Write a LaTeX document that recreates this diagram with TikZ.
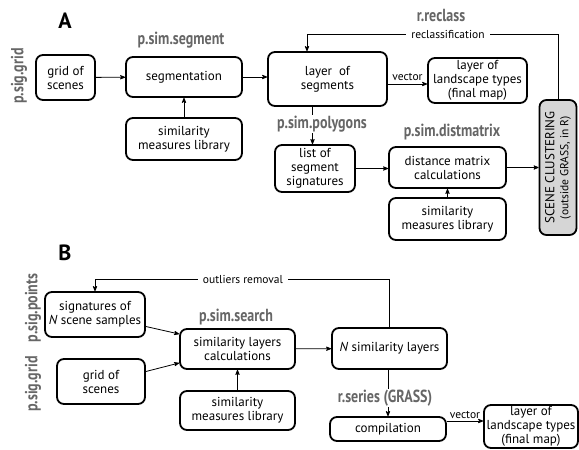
\documentclass[tikz,border=0pt]{standalone}
\usepackage{fontspec}
\setmainfont{PT Sans}
\newfontfamily\cmdfont[FakeStretch=0.8,BoldFont={PT Sans Bold}]{PT Sans}
\usetikzlibrary{shapes,arrows}

\begin{document}
\begin{tikzpicture}[x=1pt,y=-1pt,->,>=stealth',line width=0.8pt,
  main node/.style={draw,line width=1.8pt,rounded corners=7pt,align=center,inner sep=1pt,
    font=\fontsize{13}{14}\selectfont},
  cmd label/.style={text=black!60,font=\cmdfont\bfseries\fontsize{17.5}{17.5}\selectfont,inner sep=1pt},
  part label/.style={font=\bfseries\fontsize{22}{22}\selectfont},
  small label/.style={font=\fontsize{11.5}{13}\selectfont,inner sep=1pt}]

  \useasboundingbox (0,0) rectangle (579,450);

  % part A
  \node[part label] at (65,21) {A};
  \node[cmd label,rotate=90] at (19,76) {p.sig.grid};
  \node[cmd label] at (181,40) {p.sim.segment};
  \node[cmd label] at (441,15) {r.reclass};
  \node[cmd label] at (452,132) {p.sim.distmatrix};

  \node[main node,minimum width=59,minimum height=45] (gridA) at (65.5,77.5) {grid of\\scenes};
  \node[main node,minimum width=116,minimum height=40] (seg) at (184,77) {segmentation};
  \node[main node,minimum width=116,minimum height=42] (libA) at (184,139) {similarity\\measures library};
  \node[main node,minimum width=119,minimum height=54] (layer) at (327.5,79) {layer \ of\\segments};
  \node[main node,minimum width=99,minimum height=45] (landA) at (477.5,80.5) {layer of\\landscape types\\(final map)};
  \node[main node,minimum width=80,minimum height=47] (list) at (315,168.5) {list of\\segment\\signatures};
  \node[main node,minimum width=117,minimum height=41] (dist) at (447.5,167.5) {distance matrix\\calculations};
  \node[main node,minimum width=117,minimum height=42] (libA2) at (447.5,219) {similarity\\measures library};
  \node[main node,fill=black!16,rotate=90,minimum width=135,minimum height=37] (clust) at (558,167.5)
    {{\fontsize{13}{13}\selectfont SCENE CLUSTERING}\\{\fontsize{11.5}{12}\selectfont(outside GRASS, in R)}};

  \coordinate (rc) at (307,34);

  \path
    (gridA) edge (seg)
    (libA) edge (seg)
    (seg.east) edge (seg.east -| layer.west)
    ([yshift=-5pt]layer.east) edge node[small label,above,inner sep=3pt] {vector} ([yshift=-5pt]layer.east -| landA.west)
    ([xshift=-15pt]layer.south) edge ([xshift=-15pt]layer.south |- list.north)
    (list.east) edge (list.east -| dist.west)
    (libA2) edge (dist)
    (dist.east) edge (dist.east -| clust.north);
  \draw (clust.east) |- (rc) -- (rc |- layer.north);
  \node[small label,fill=white,inner xsep=5pt] at (448,34) {reclassification};
  \node[cmd label,fill=white] at (322,124) {p.sim.polygons};

  % part B
  \node[part label] at (65,253) {B};
  \node[cmd label,rotate=90] at (33,308) {p.sig.points};
  \node[cmd label,rotate=90] at (33,384) {p.sig.grid};
  \node[cmd label] at (236,317) {p.sim.search};

  \node[main node,minimum width=100,minimum height=45] (sig) at (95,314.5) {signatures of\\\textit{N} scene samples};
  \node[main node,minimum width=88,minimum height=45] (gridB) at (101,381.5) {grid of\\scenes};
  \node[main node,minimum width=115,minimum height=40] (calc) at (237.5,349) {similarity layers\\calculations};
  \node[main node,minimum width=115,minimum height=39] (libB) at (237.5,410.5) {similarity\\measures library};
  \node[main node,minimum width=115,minimum height=41] (nlay) at (389.5,348.5) {\textit{N} similarity layers};
  \node[main node,minimum width=116,minimum height=24] (comp) at (388,429) {compilation};
  \node[main node,minimum width=94,minimum height=43] (landB) at (531,426.5) {layer of\\landscape types\\(final map)};

  \coordinate (ol) at (95,279);

  \path
    ([yshift=-12pt]sig.east) edge ([yshift=15pt]calc.west)
    ([yshift=10pt]gridB.east) edge ([yshift=-14pt]calc.west)
    (libB) edge (calc)
    (calc) edge (nlay)
    (nlay.south -| comp.north) edge (comp.north)
    ([yshift=8pt]comp.east) edge node[small label,above,inner sep=2pt] {vector} ([yshift=8pt]comp.east -| landB.west);
  \draw (nlay.north) |- (ol) -- (sig.north);
  \node[small label,fill=white,inner xsep=5pt] at (243,279) {outliers removal};
  \node[cmd label,fill=white] at (385,398) {r.series (GRASS)};
\end{tikzpicture}
\end{document}
